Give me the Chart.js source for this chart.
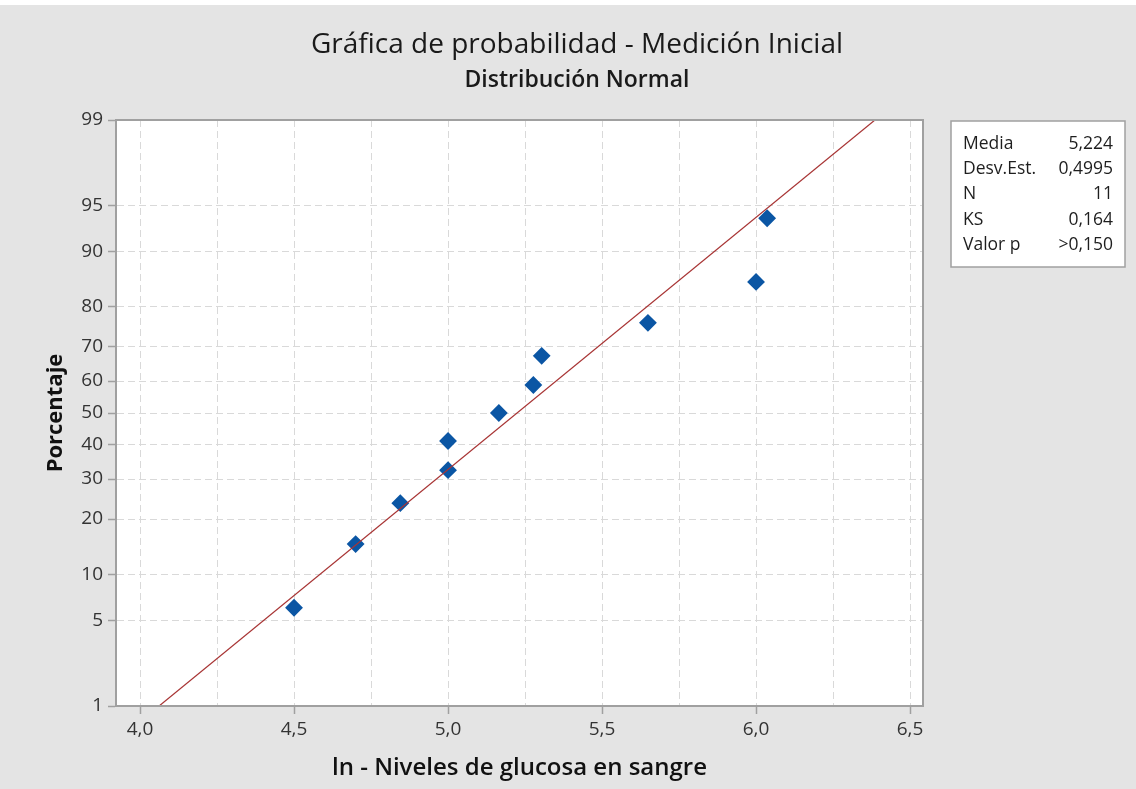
<!DOCTYPE html>
<html>
<head>
<meta charset="utf-8">
<script src="https://cdn.jsdelivr.net/npm/chart.js@4.4.1/dist/chart.umd.min.js"></script>
<style>
  html, body { margin: 0; padding: 0; background: #ffffff; }
  canvas { display: block; }
</style>
</head>
<body>
<canvas id="myChart" width="1136" height="789"></canvas>
<script>
// values
const pctTicks = [1, 5, 10, 20, 30, 40, 50, 60, 70, 80, 90, 95, 99];
const xTicks = [4.0, 4.25, 4.5, 4.75, 5.0, 5.25, 5.5, 5.75, 6.0, 6.25, 6.5];
const lnGlucosa = [4.50, 4.70, 4.845, 5.00, 5.00, 5.165, 5.277, 5.304, 5.649, 6.00, 6.036];
const porcentaje = [6.1, 14.9, 23.7, 32.5, 41.2, 50.0, 58.8, 67.5, 76.3, 85.1, 93.9];
const ajusteX = [4.062, 6.386];
const ajusteP = [1, 99];
const statLabels = ["Media", "Desv.Est.", "N", "KS", "Valor p"];
const statValues = ["5,224", "0,4995", "11", "0,164", ">0,150"];

// inverse normal cdf, used as the probability axis transform
function probit(p) {
  const a = [-3.969683028665376e+01, 2.209460984245205e+02, -2.759285104469687e+02, 1.383577518672690e+02, -3.066479806614716e+01, 2.506628277459239e+00];
  const b = [-5.447609879822406e+01, 1.615858368580409e+02, -1.556989798598866e+02, 6.680131188771972e+01, -1.328068155288572e+01];
  const c = [-7.784894002430293e-03, -3.223964580411365e-01, -2.400758277161838e+00, -2.549671010625080e+00, 4.374664141464968e+00, 2.938163982698783e+00];
  const d = [7.784695709041462e-03, 3.224671290700398e-01, 2.445134137142996e+00, 3.754408661907416e+00];
  const pl = 0.02425;
  let q, r;
  if (p < pl) {
    q = Math.sqrt(-2 * Math.log(p));
    return (((((c[0] * q + c[1]) * q + c[2]) * q + c[3]) * q + c[4]) * q + c[5]) / ((((d[0] * q + d[1]) * q + d[2]) * q + d[3]) * q + 1);
  }
  if (p <= 1 - pl) {
    q = p - 0.5;
    r = q * q;
    return (((((a[0] * r + a[1]) * r + a[2]) * r + a[3]) * r + a[4]) * r + a[5]) * q / (((((b[0] * r + b[1]) * r + b[2]) * r + b[3]) * r + b[4]) * r + 1);
  }
  q = Math.sqrt(-2 * Math.log(1 - p));
  return -(((((c[0] * q + c[1]) * q + c[2]) * q + c[3]) * q + c[4]) * q + c[5]) / ((((d[0] * q + d[1]) * q + d[2]) * q + d[3]) * q + 1);
}

const puntos = lnGlucosa.map((x, i) => ({ x: x, y: probit(porcentaje[i] / 100) }));
const ajuste = ajusteX.map((x, i) => ({ x: x, y: probit(ajusteP[i] / 100) }));

const fmtComa = v => v.toFixed(1).replace(".", ",");
const esMayor = v => Math.abs(v * 2 - Math.round(v * 2)) < 1e-9;

Chart.defaults.font.family = "'Open Sans', sans-serif";
Chart.defaults.color = "#333333";

const fondo = {
  id: "fondo",
  beforeDraw(chart) {
    const { ctx, chartArea: a } = chart;
    ctx.save();
    ctx.fillStyle = "#e4e4e4";
    ctx.fillRect(0, 5, chart.width, chart.height - 5);
    ctx.fillStyle = "#ffffff";
    ctx.fillRect(a.left, a.top, a.right - a.left, a.bottom - a.top);
    ctx.restore();
  },
  afterDraw(chart) {
    const { ctx, chartArea: a } = chart;
    ctx.save();
    // frame around the plot
    ctx.strokeStyle = "#a0a0a0";
    ctx.lineWidth = 2;
    ctx.strokeRect(a.left, a.top, a.right - a.left, a.bottom - a.top);

    // statistics box
    const bx = a.right + 28, by = a.top + 1, bw = 174, bh = 146;
    ctx.fillStyle = "#ffffff";
    ctx.fillRect(bx, by, bw, bh);
    ctx.lineWidth = 1.5;
    ctx.strokeStyle = "#a0a0a0";
    ctx.strokeRect(bx, by, bw, bh);
    ctx.fillStyle = "#1e1e1e";
    ctx.font = "17.5px 'Open Sans', sans-serif";
    ctx.textBaseline = "alphabetic";
    statLabels.forEach((lab, i) => {
      const yy = by + 28 + i * 25.2;
      ctx.textAlign = "left";
      ctx.fillText(lab, bx + 12, yy);
      ctx.textAlign = "right";
      ctx.fillText(statValues[i], bx + 162, yy);
    });
    ctx.restore();
  }
};

const ctx = document.getElementById("myChart").getContext("2d");
const chart = new Chart(ctx, {
  type: "scatter",
  data: {
    datasets: [
      {
        type: "line",
        label: "Ajuste",
        data: ajuste,
        borderColor: "#a83434",
        borderWidth: 1.2,
        pointRadius: 0,
        fill: false
      },
      {
        label: "Medición Inicial",
        data: puntos,
        pointStyle: "rectRot",
        pointRadius: 7.5,
        backgroundColor: "#0b56a4",
        borderColor: "#0b56a4",
        borderWidth: 2,
        borderJoinStyle: "round"
      }
    ]
  },
  options: {
    responsive: false,
    animation: false,
    layout: { padding: { left: 18, right: 0, top: 0, bottom: 0 } },
    plugins: {
      legend: { display: false },
      tooltip: { enabled: false },
      title: {
        display: true,
        text: "Gráfica de probabilidad - Medición Inicial",
        color: "#1a1a1a",
        font: { size: 28, weight: "normal" },
        padding: { top: 28, bottom: 0 }
      },
      subtitle: {
        display: true,
        text: "Distribución Normal",
        color: "#1a1a1a",
        font: { size: 23, weight: "600" },
        padding: { top: 4.6, bottom: 26.2 }
      }
    },
    scales: {
      x: {
        type: "linear",
        position: "bottom",
        min: 3.922,
        max: 6.542,
        afterBuildTicks: s => { s.ticks = xTicks.map(v => ({ value: v })); },
        afterFit: s => { s.height = 83; },
        ticks: {
          autoSkip: false,
          maxRotation: 0,
          padding: 4,
          font: { size: 19 },
          color: "#333333",
          callback: v => (esMayor(v) ? fmtComa(v) : "")
        },
        grid: {
          color: "#d9d9d9",
          lineWidth: 1,
          tickLength: 8,
          tickWidth: 1.5,
          tickColor: c => (c.tick && esMayor(c.tick.value) ? "#a0a0a0" : "rgba(0,0,0,0)")
        },
        border: { color: "#a0a0a0", width: 2, dash: [7, 4] },
        title: {
          display: true,
          text: "ln - Niveles de glucosa en sangre",
          color: "#111111",
          font: { size: 24, weight: "600" },
          padding: { top: 0, bottom: 6 }
        }
      },
      y: {
        type: "linear",
        position: "left",
        min: probit(0.01),
        max: probit(0.99),
        afterBuildTicks: s => { s.ticks = pctTicks.map(p => ({ value: probit(p / 100) })); },
        afterFit: s => { s.width = 98; },
        ticks: {
          autoSkip: false,
          padding: 5,
          font: { size: 19 },
          color: "#333333",
          callback: (v, i) => pctTicks[i]
        },
        grid: {
          color: "#d9d9d9",
          lineWidth: 1,
          tickLength: 8,
          tickWidth: 1.5,
          tickColor: "#a0a0a0"
        },
        border: { color: "#a0a0a0", width: 2, dash: [7, 4] },
        title: {
          display: true,
          text: "Porcentaje",
          color: "#111111",
          font: { size: 22, weight: "bold" },
          padding: { top: 25, bottom: 0 }
        }
      },
      // empty right axis that keeps room for the statistics box
      yDer: {
        type: "linear",
        position: "right",
        display: true,
        afterFit: s => { s.width = 213; },
        ticks: { display: false },
        grid: { display: false, drawTicks: false },
        border: { display: false }
      }
    }
  },
  plugins: [fondo]
});
</script>
</body>
</html>
